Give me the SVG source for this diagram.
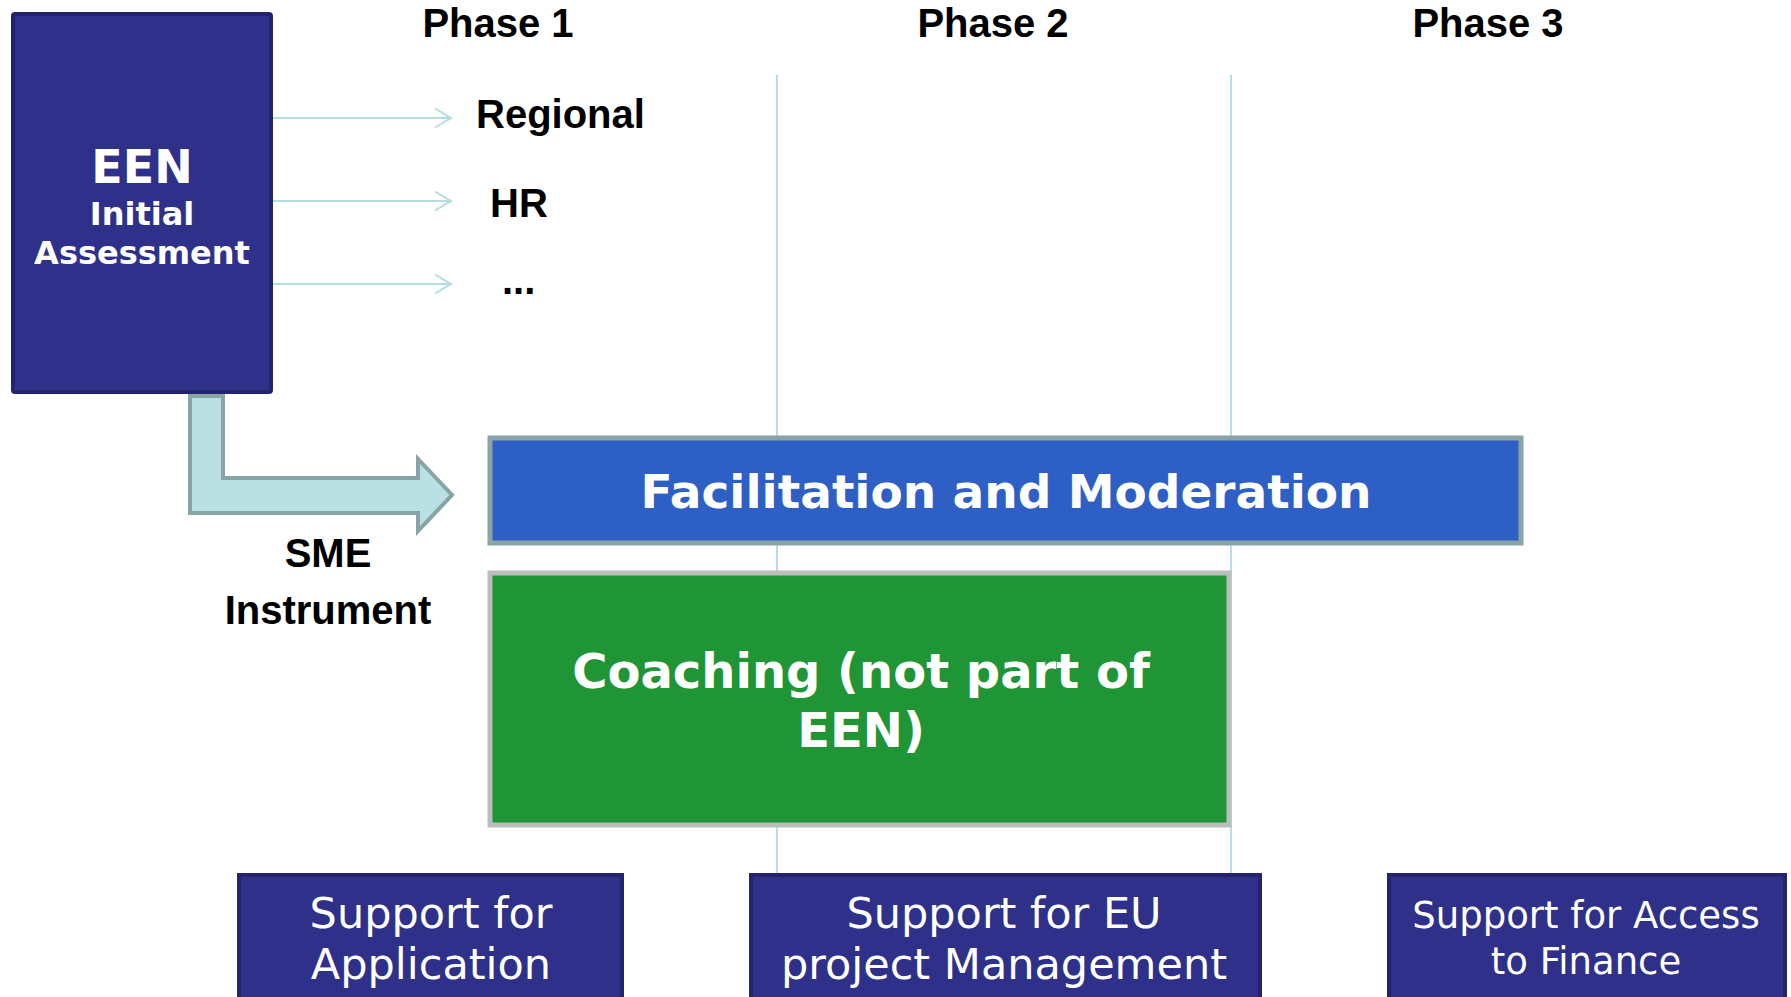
<svg xmlns="http://www.w3.org/2000/svg" width="1791" height="997" viewBox="0 0 1791 997">
<defs>
<style>
.bg{fill:#ffffff}
.navy{fill:#2e3089;stroke:#23246c;stroke-width:4}
.phase{font-family:"Liberation Sans",Arial,sans-serif;font-weight:bold;font-size:40px;fill:#000;text-anchor:middle}
.lbl{font-family:"Liberation Sans",Arial,sans-serif;font-weight:bold;font-size:40px;fill:#000}
.wb{font-family:"DejaVu Sans",Verdana,sans-serif;font-weight:bold;fill:#fff;text-anchor:middle}
.wr{font-family:"DejaVu Sans",Verdana,sans-serif;fill:#fff;text-anchor:middle}
.vline{stroke:#b8dde2;stroke-width:2;fill:none}
.conn{stroke:#b4dce1;stroke-width:2;fill:none}
</style>
</defs>
<rect class="bg" x="0" y="0" width="1791" height="997"/>

<g id="phase-lines">
<line class="vline" x1="777" y1="75" x2="777" y2="874"/>
<line class="vline" x1="1231" y1="75" x2="1231" y2="874"/>
</g>

<g id="phase-labels">
<text class="phase" x="498" y="37">Phase 1</text>
<text class="phase" x="993" y="37">Phase 2</text>
<text class="phase" x="1488" y="37">Phase 3</text>
</g>

<g id="connectors">
<line class="conn" x1="273" y1="118" x2="451" y2="118"/>
<polyline class="conn" points="435,108.5 451,118 435,127.5"/>
<line class="conn" x1="273" y1="201" x2="451" y2="201"/>
<polyline class="conn" points="435,191.5 451,201 435,210.5"/>
<line class="conn" x1="273" y1="284" x2="451" y2="284"/>
<polyline class="conn" points="435,274.5 451,284 435,293.5"/>
<path id="sme-arrow" d="M190,396 L223,396 L223,478 L418,478 L418,459 L452,495 L418,531 L418,513 L190,513 Z" fill="#b9e0e2" stroke="#88a4a6" stroke-width="4" stroke-linejoin="miter"/>
</g>

<g id="een">
<rect class="navy" x="13" y="14" width="258" height="378" rx="2"/>
<text class="wb" x="142" y="183" font-size="46">EEN</text>
<text class="wb" x="142" y="225" font-size="32">Initial</text>
<text class="wb" x="142" y="264" font-size="32">Assessment</text>
</g>

<g id="regional"><text class="lbl" x="476" y="128">Regional</text></g>
<g id="hr"><text class="lbl" x="490" y="217">HR</text></g>
<g id="more"><text class="lbl" x="502" y="294">...</text></g>

<g id="sme-label">
<text class="phase" x="328" y="567" font-size="42">SME</text>
<text class="phase" x="328" y="624" font-size="42">Instrument</text>
</g>

<g id="facilitation">
<rect x="490" y="438" width="1031" height="105" fill="#2e5fc4" stroke="#8aa3a6" stroke-width="5"/>
<text class="wb" x="1006" y="508" font-size="47">Facilitation and Moderation</text>
</g>

<g id="coaching">
<rect x="490" y="573" width="739" height="252" fill="#1f9535" stroke="#bdbdbd" stroke-width="5"/>
<text class="wb" x="861" y="688" font-size="48">Coaching (not part of</text>
<text class="wb" x="861" y="747" font-size="48">EEN)</text>
</g>

<g id="support-application">
<rect class="navy" x="239" y="875" width="383" height="130"/>
<text class="wr" x="431" y="928" font-size="43">Support for</text>
<text class="wr" x="431" y="979" font-size="43">Application</text>
</g>

<g id="support-eu">
<rect class="navy" x="751" y="875" width="509" height="130"/>
<text class="wr" x="1004" y="928" font-size="43">Support for EU</text>
<text class="wr" x="1004" y="979" font-size="43">project Management</text>
</g>

<g id="support-finance">
<rect class="navy" x="1389" y="875" width="396" height="130"/>
<text class="wr" x="1586" y="928" font-size="37">Support for Access</text>
<text class="wr" x="1586" y="974" font-size="37">to Finance</text>
</g>
</svg>
